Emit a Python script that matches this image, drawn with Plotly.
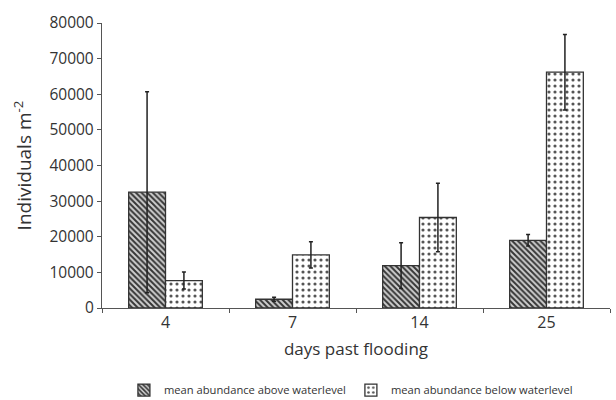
import plotly.graph_objects as go

days = ["4", "7", "14", "25"]
above_mean = [32500, 2450, 11900, 19000]
above_err = [28200, 550, 6400, 1600]
below_mean = [7700, 14900, 25400, 66200]
below_err = [2400, 3700, 9600, 10600]
y_ticks = [0, 10000, 20000, 30000, 40000, 50000, 60000, 70000, 80000]

FONT = "Open Sans"

fig = go.Figure()
fig.add_trace(go.Bar(
    x=days, y=above_mean, name="mean abundance above waterlevel",
    error_y=dict(type="data", array=above_err, color="#222", thickness=1.5, width=2),
    marker=dict(color="#cfcfcf", line=dict(color="#333", width=1.3),
                pattern=dict(shape="\\", fgcolor="#363636", bgcolor="#cfcfcf",
                             size=4, solidity=0.5, fillmode="replace")),
))
fig.add_trace(go.Bar(
    x=days, y=below_mean, name="mean abundance below waterlevel",
    error_y=dict(type="data", array=below_err, color="#222", thickness=1.5, width=2),
    marker=dict(color="white", line=dict(color="#333", width=1.3),
                pattern=dict(shape=".", fgcolor="#555", bgcolor="white",
                             size=6, solidity=0.22, fillmode="replace")),
))

fig.update_layout(
    width=616, height=400,
    margin=dict(l=102, r=6, t=23, b=92, autoexpand=False),
    paper_bgcolor="white", plot_bgcolor="white",
    barmode="group", bargap=0.42, bargroupgap=0,
    font=dict(family=FONT, color="#333"),
    showlegend=True,
    legend=dict(orientation="h", x=0.49, xanchor="center", y=-0.288, yanchor="middle",
                font=dict(size=11.2, color="#333"), itemwidth=30, traceorder="normal"),
)
fig.update_xaxes(
    type="category", showline=True, linecolor="#555", linewidth=1.3,
    ticks="outside", tickson="boundaries", ticklen=4, tickcolor="#555",
    tickfont=dict(size=16, color="#333"),
    title=dict(text="days past flooding", font=dict(size=17, color="#333"), standoff=10),
    showgrid=False,
)
fig.update_yaxes(
    range=[0, 80000], tickvals=y_ticks, ticktext=[str(v) for v in y_ticks],
    showline=True, linecolor="#555", linewidth=1.3,
    ticks="outside", ticklen=4, tickcolor="#555",
    tickfont=dict(size=15.5, color="#333"),
    title=dict(text="Individuals m<sup>-2</sup>", font=dict(size=19, color="#333"), standoff=12),
    showgrid=False, zeroline=False,
)

fig.write_html("out.html", config={"displayModeBar": False},
               post_script="document.body.style.margin='0';document.body.style.overflow='hidden';")
